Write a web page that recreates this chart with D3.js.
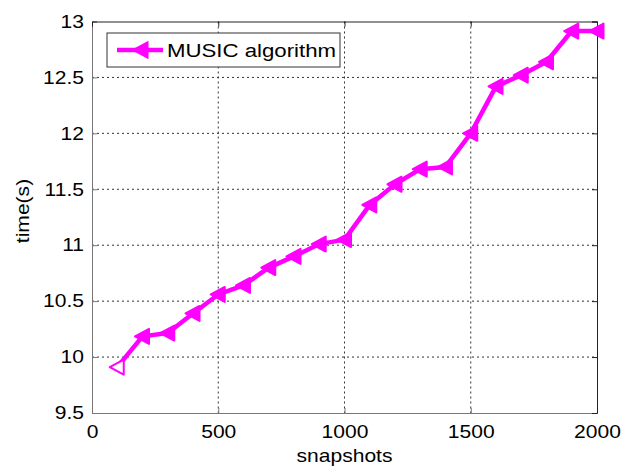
<!DOCTYPE html>
<html>
<head>
<meta charset="utf-8">
<script src="https://cdn.jsdelivr.net/npm/d3@7"></script>
<style>
 body{margin:0;background:#fff}
 text{font-family:"Liberation Sans",Arial,sans-serif}
</style>
</head>
<body>
<div id="chart"></div>
<script>
const snapshots = [100,200,300,400,500,600,700,800,900,1000,1100,1200,1300,1400,1500,1600,1700,1800,1900,2000]
const times = [9.91,10.185,10.215,10.39,10.56,10.64,10.80,10.90,11.01,11.05,11.36,11.545,11.68,11.70,12.0,12.42,12.52,12.64,12.915,12.915]
const xTicks = [0,500,1000,1500,2000]
const yTicks = [9.5,10,10.5,11,11.5,12,12.5,13]
const seriesName = "MUSIC algorithm"

const data = snapshots.map((s,i)=>({x:s,y:times[i]}))

let size = {width:635,height:466}
let margin = {top:21.5,right:38,left:92,bottom:53}
let w = size.width - margin.left - margin.right
let h = size.height - margin.top - margin.bottom
const color = "#ff00ff"
const sx = 1.17 // text in the picture is a bit wider than tall

const xScale = d3.scaleLinear().domain([0,2000]).range([0,w])
const yScale = d3.scaleLinear().domain([9.5,13]).range([h,0])

const svg = d3.select("#chart").append("svg").attr("width",size.width).attr("height",size.height)
let g = svg.append("g").attr("transform",`translate(${margin.left},${margin.top})`)

// grid
g.append("g").selectAll("line").data(xTicks.slice(1,-1)).enter().append("line")
  .attr("x1",d=>xScale(d)).attr("x2",d=>xScale(d)).attr("y1",0).attr("y2",h)
  .attr("stroke","#333").attr("stroke-dasharray","2,3").attr("stroke-width",1)
g.append("g").selectAll("line").data(yTicks.slice(1,-1)).enter().append("line")
  .attr("y1",d=>yScale(d)).attr("y2",d=>yScale(d)).attr("x1",0).attr("x2",w)
  .attr("stroke","#333").attr("stroke-dasharray","2,3").attr("stroke-width",1)

// axes
const xAxis = d3.axisBottom(xScale).tickValues(xTicks).tickSize(-5).tickPadding(12).tickFormat(d3.format("d"))
const yAxis = d3.axisLeft(yScale).tickValues(yTicks).tickSize(-5).tickPadding(8).tickFormat(d=>d)
let xg = g.append("g").attr("transform",`translate(0,${h})`).call(xAxis)
let yg = g.append("g").call(yAxis)
let xg2 = g.append("g").call(d3.axisTop(xScale).tickValues(xTicks).tickSize(-5).tickFormat(""))
let yg2 = g.append("g").attr("transform",`translate(${w},0)`).call(d3.axisRight(yScale).tickValues(yTicks).tickSize(-5).tickFormat(""))
;[xg,yg].forEach(a=>{
  a.selectAll(".domain").attr("stroke","#777")
  a.selectAll(".tick line").attr("stroke","#777")
  a.selectAll("text").attr("font-size",18).attr("fill","#000").attr("transform",`scale(${sx},1)`)
})
yg.selectAll("text").attr("x",-8/sx)
;[xg2,yg2].forEach(a=>{
  a.selectAll(".domain").attr("stroke","#222")
  a.selectAll(".tick line").attr("stroke","#222")
})

// line
const line = d3.line().x(d=>xScale(d.x)).y(d=>yScale(d.y))
g.append("path").datum(data).attr("d",line).attr("fill","none")
  .attr("stroke",color).attr("stroke-width",4.5).attr("stroke-linejoin","round")

const tri = "M-7.5,0L6.5,-7.5L6.5,7.5Z"
g.selectAll(".mk").data(data).enter().append("path").attr("class","mk")
  .attr("d",tri)
  .attr("transform",d=>`translate(${xScale(d.x)},${yScale(d.y)})`)
  .attr("fill",(d,i)=> i==0 ? "#fff" : color)
  .attr("stroke",color).attr("stroke-width",2).attr("stroke-linejoin","round")

// labels
svg.append("text").attr("transform",`translate(${margin.left + w/2},462) scale(${sx},1)`).attr("text-anchor","middle")
  .attr("font-size",18).text("snapshots")
svg.append("text").attr("transform",`translate(29,211) rotate(-90) scale(${sx},1)`)
  .attr("text-anchor","middle").attr("font-size",18).text("time(s)")

// legend
let lg = svg.append("g").attr("transform","translate(107,33)")
lg.append("rect").attr("width",233).attr("height",34).attr("fill","#fff").attr("stroke","#333").attr("stroke-width",1)
lg.append("line").attr("x1",10).attr("x2",56).attr("y1",17).attr("y2",17).attr("stroke",color).attr("stroke-width",4.5)
lg.append("path").attr("d",tri).attr("transform","translate(34,17)").attr("fill",color).attr("stroke",color).attr("stroke-width",2)
lg.append("text").attr("transform",`translate(60,24) scale(${sx},1)`).attr("font-size",19).text(seriesName)
</script>
</body>
</html>
